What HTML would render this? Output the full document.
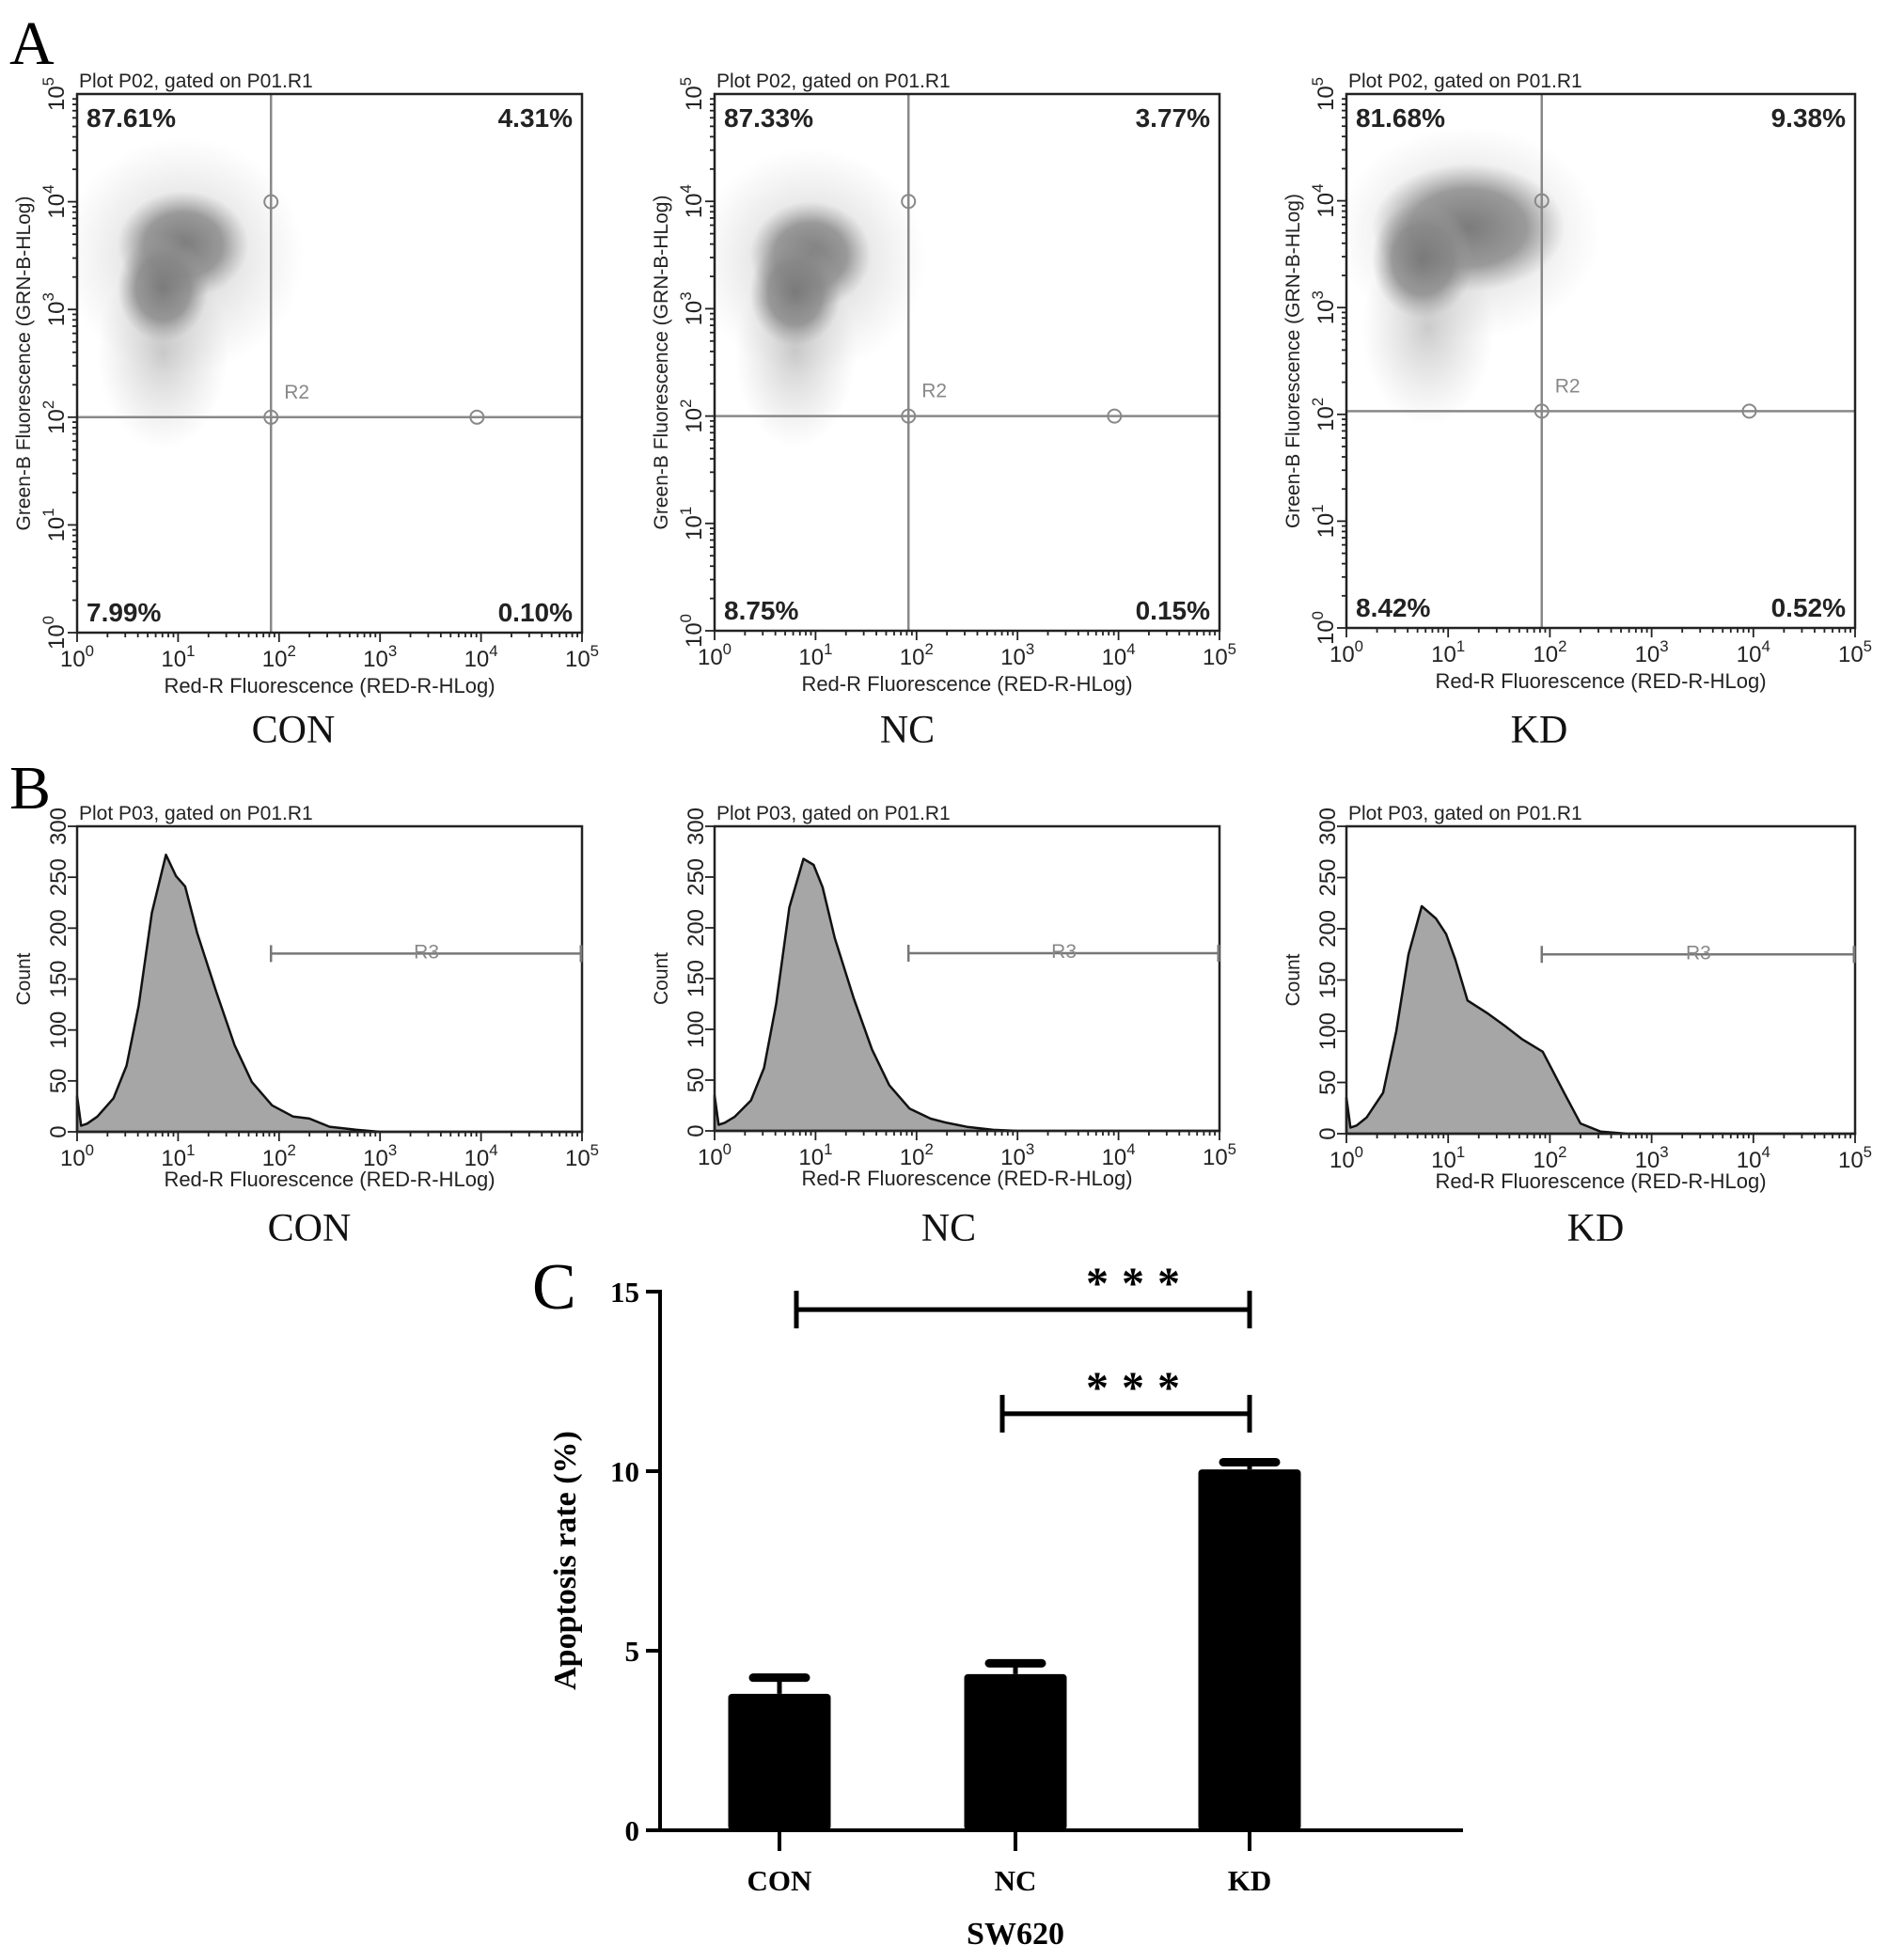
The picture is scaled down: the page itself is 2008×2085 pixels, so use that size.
<!DOCTYPE html>
<html><head><meta charset="utf-8">
<style>
html,body{margin:0;padding:0;background:#fff;}
svg{display:block;}
.sans{font-family:"Liberation Sans",sans-serif;}
.serif{font-family:"Liberation Serif",serif;}
</style></head>
<body>
<svg id="fig" width="2008" height="2085" viewBox="0 0 2008 2085" xmlns="http://www.w3.org/2000/svg">
<defs>
<radialGradient id="dens" cx="50%" cy="50%" r="50%">
<stop offset="0%" stop-color="#777" stop-opacity="0.95"/>
<stop offset="60%" stop-color="#888" stop-opacity="0.8"/>
<stop offset="100%" stop-color="#a0a0a0" stop-opacity="0"/>
</radialGradient>
<radialGradient id="halo" cx="50%" cy="50%" r="50%">
<stop offset="0%" stop-color="#999" stop-opacity="0.5"/>
<stop offset="100%" stop-color="#b0b0b0" stop-opacity="0"/>
</radialGradient>
</defs>
<text x="10" y="68" class="serif" font-size="66">A</text>
<text x="10" y="860" class="serif" font-size="66">B</text>
<text x="566" y="1392" class="serif" font-size="70">C</text>
<g id="root"></g>
</svg>
<script>
// ---------- data ----------
const groups = ["CON","NC","KD"];
const quadUL = ["87.61%","87.33%","81.68%"];
const quadUR = ["4.31%","3.77%","9.38%"];
const quadLL = ["7.99%","8.75%","8.42%"];
const quadLR = ["0.10%","0.15%","0.52%"];
const gateX = [1.92, 1.92, 1.92];
const gateY = [2.0, 2.0, 2.03];
// scatter clusters: [logX, logY, radiusX(decades), radiusY(decades), kind]
const clustersCON = [[1.05,3.5,1.2,1.1,0],[0.85,2.6,0.65,0.9,0],[1.05,3.6,0.65,0.5,1],[0.85,3.2,0.45,0.5,1]];
const clustersNC  = [[0.95,3.45,1.15,1.05,0],[0.8,2.6,0.6,0.9,0],[0.95,3.5,0.6,0.5,1],[0.8,3.15,0.45,0.5,1]];
const clustersKD  = [[1.2,3.7,1.3,1.0,0],[0.8,2.8,0.65,0.9,0],[1.2,3.75,0.95,0.6,1],[0.75,3.45,0.5,0.55,1]];
const clusters = [clustersCON, clustersNC, clustersKD];
// histogram: log10 x positions and counts
const histX   = [0,0.04,0.1,0.2,0.36,0.49,0.61,0.74,0.88,0.98,1.07,1.19,1.38,1.56,1.73,1.93,2.14,2.3,2.5,2.76,3.0,5.0];
const histCON = [35,6,8,15,33,65,124,215,272,251,241,195,137,85,49,26,15,13,5,2,0,0];
const histNC  = [35,6,8,14,30,62,125,220,268,262,240,190,130,80,45,22,12,8,4,1,0,0];
const histKD  = [35,6,8,16,40,100,175,222,210,195,170,130,118,105,92,80,40,10,2,0,0,0];
const hists = [histCON, histNC, histKD];
const histTicks = [0,50,100,150,200,250,300];
const logTicks = [0,1,2,3,4,5];
// bar chart
const barCats = ["CON","NC","KD"];
const barVals = [3.8, 4.35, 10.05];
const barErr  = [0.45, 0.3, 0.2];
const barTicks = [0,5,10,15];
const sigPairs = [[0,2,14.5],[1,2,11.6]];

// ---------- helpers ----------
const NS="http://www.w3.org/2000/svg";
const root=document.getElementById('root');
function mk(tag, attrs, parent, txt){
  const e=document.createElementNS(NS,tag);
  for(const k in attrs) e.setAttribute(k,attrs[k]);
  if(txt!==undefined) e.textContent=txt;
  (parent||root).appendChild(e);
  return e;
}
function logLabel(g,x,y,p,rot,size){
  const t=mk('text',{x:x,y:y,'font-size':size,'class':'sans','text-anchor':'middle',fill:'#222'},g);
  if(rot) t.setAttribute('transform','rotate(-90 '+x+' '+y+')');
  const a=document.createElementNS(NS,'tspan'); a.textContent='10'; t.appendChild(a);
  const b=document.createElementNS(NS,'tspan'); b.setAttribute('dy',-size*0.45); b.setAttribute('font-size',size*0.7); b.textContent=String(p); t.appendChild(b);
  return t;
}
function logXTicks(g,L,R,B){
  const dec=(R-L)/5;
  for(let d=0;d<5;d++){
    for(let m=1;m<=9;m++){
      const x=L+(d+Math.log10(m))*dec;
      mk('line',{x1:x,x2:x,y1:B,y2:B+(m==1?10:5),stroke:'#222','stroke-width':1.8},g);
    }
  }
  mk('line',{x1:R,x2:R,y1:B,y2:B+10,stroke:'#222','stroke-width':1.8},g);
  logTicks.forEach(p=>{ logLabel(g,L+p*dec,B+36,p,false,24); });
}

const scatL=[82,760,1432], scatR=[619,1297,1973], scatT=[100,100,100], scatB=[673,671,668];
const labA=[312,965,1637];
const histL=[82,760,1432], histR=[619,1297,1973], histT=[879,879,879], histB=[1204,1203,1206];
const labB=[329,1009,1697];

// ---------- panel A ----------
groups.forEach((gname,i)=>{
  const g=mk('g',{});
  
  
  const L=scatL[i],R=scatR[i],T=scatT[i],B=scatB[i];
  const dx=(R-L)/5, dy=(B-T)/5;
  const sx=v=>L+v*dx, sy=v=>B-v*dy;
  const clip=mk('clipPath',{id:'clipA'+i},g); mk('rect',{x:L,y:T,width:R-L,height:B-T},clip);
  const cg=mk('g',{'clip-path':'url(#clipA'+i+')'},g);
  clusters[i].forEach((c,j)=>{
    const e=mk('ellipse',{cx:sx(c[0]),cy:sy(c[1]),rx:c[2]*dx,ry:c[3]*dy,fill:c[4]?'url(#dens)':'url(#halo)'},cg);
    
    
  });
  const gx=sx(gateX[i]), gy=sy(gateY[i]);
  mk('line',{x1:gx,x2:gx,y1:T,y2:B,stroke:'#888','stroke-width':2.5},g);
  mk('line',{x1:L,x2:R,y1:gy,y2:gy,stroke:'#888','stroke-width':2.5},g);
  [[gx,gy],[sx(3.96),gy],[gx,sy(4)]].forEach(p=>mk('circle',{cx:p[0],cy:p[1],r:7,fill:'none',stroke:'#888','stroke-width':2},g));
  mk('text',{x:gx+14,y:gy-20,'font-size':21,'class':'sans',fill:'#888'},g,'R2');
  mk('rect',{x:L,y:T,width:R-L,height:B-T,fill:'none',stroke:'#222','stroke-width':2.5},g);
  mk('text',{x:L+2,y:T-7,'font-size':21,'class':'sans',fill:'#222'},g,'Plot P02, gated on P01.R1');
  const q=[[quadUL[i],L+10,T+35,'start'],[quadUR[i],R-10,T+35,'end'],[quadLL[i],L+10,B-12,'start'],[quadLR[i],R-10,B-12,'end']];
  q.forEach((o,k)=>{const t=mk('text',{x:o[1],y:o[2],'font-size':28,'font-weight':'bold','class':'sans','text-anchor':o[3],fill:'#222'},g,o[0]);
     });
  logXTicks(g,L,R,B);
  for(let d=0;d<5;d++)for(let m=1;m<=9;m++){const y=B-(d+Math.log10(m))*dy; mk('line',{x1:L-(m==1?10:5),x2:L,y1:y,y2:y,stroke:'#222','stroke-width':1.8},g);}
  logTicks.forEach(p=>logLabel(g,L-14,B-p*dy,p,true,24));
  const yl=mk('text',{x:L-50,y:(T+B)/2,'font-size':21,'class':'sans','text-anchor':'middle',fill:'#222',transform:'rotate(-90 '+(L-50)+' '+((T+B)/2)+')'},g,'Green-B Fluorescence (GRN-B-HLog)');
   
  const xl=mk('text',{x:(L+R)/2,y:B+64,'font-size':22,'class':'sans','text-anchor':'middle',fill:'#222'},g,'Red-R Fluorescence (RED-R-HLog)');
   
  const cl=mk('text',{x:labA[i],y:790,'font-size':42,'class':'serif','text-anchor':'middle',fill:'#111'},g,gname);
   
});

// ---------- panel B ----------
groups.forEach((gname,i)=>{
  const g=mk('g',{});
  
  
  const L=histL[i],R=histR[i],T=histT[i],B=histB[i];
  const dx=(R-L)/5, sy=v=>B-v/300*(B-T), sx=v=>L+v*dx;
  let d='M'+sx(histX[0])+','+B;
  histX.forEach((x,k)=>{d+=' L'+sx(x).toFixed(1)+','+sy(hists[i][k]).toFixed(1);});
  d+=' L'+R+','+B+' Z';
  const p=mk('path',{d:d,fill:'#a6a6a6',stroke:'#111','stroke-width':2.5,'stroke-linejoin':'round'},g);
  
  
  mk('rect',{x:L,y:T,width:R-L,height:B-T,fill:'none',stroke:'#222','stroke-width':2.5},g);
  mk('text',{x:L+2,y:T-7,'font-size':21,'class':'sans',fill:'#222'},g,'Plot P03, gated on P01.R1');
  const ry=sy(175), rx1=sx(1.92);
  mk('line',{x1:rx1,x2:R,y1:ry,y2:ry,stroke:'#777','stroke-width':2.5},g);
  mk('line',{x1:rx1,x2:rx1,y1:ry-9,y2:ry+9,stroke:'#777','stroke-width':2.5},g);
  mk('line',{x1:R-1,x2:R-1,y1:ry-9,y2:ry+9,stroke:'#777','stroke-width':3},g);
  mk('text',{x:(rx1+R)/2,y:ry+5,'font-size':21,'class':'sans','text-anchor':'middle',fill:'#888'},g,'R3');
  logXTicks(g,L,R,B);
  histTicks.forEach(v=>{const y=sy(v); mk('line',{x1:L-10,x2:L,y1:y,y2:y,stroke:'#222','stroke-width':1.8},g);
    mk('text',{x:L-12,y:y,'font-size':24,'class':'sans','text-anchor':'middle',fill:'#222',transform:'rotate(-90 '+(L-12)+' '+y+')'},g,String(v));});
  mk('text',{x:L-50,y:(T+B)/2,'font-size':21,'class':'sans','text-anchor':'middle',fill:'#222',transform:'rotate(-90 '+(L-50)+' '+((T+B)/2)+')'},g,'Count');
  mk('text',{x:(L+R)/2,y:B+58,'font-size':22,'class':'sans','text-anchor':'middle',fill:'#222'},g,'Red-R Fluorescence (RED-R-HLog)');
  mk('text',{x:labB[i],y:1320,'font-size':42,'class':'serif','text-anchor':'middle',fill:'#111'},g,gname);
});

// ---------- panel C ----------
(function(){
  const g=mk('g',{});
  
  
  const L=702, R=1556, B=1947, T=1374, ymax=15;
  const sy=v=>B-v/ymax*(B-T);
  const cx=[829,1080,1329], bw=109;
  barVals.forEach((v,k)=>{
    const e=sy(v+barErr[k]);
    mk('line',{x1:cx[k],x2:cx[k],y1:sy(v),y2:e,stroke:'#000','stroke-width':5},g);
    mk('line',{x1:cx[k]-28,x2:cx[k]+28,y1:e,y2:e,stroke:'#000','stroke-width':9,'stroke-linecap':'round'},g);
    const r=mk('rect',{x:cx[k]-bw/2,y:sy(v),width:bw,height:B-sy(v),fill:'#000',rx:4},g);
    
    
    mk('line',{x1:cx[k],x2:cx[k],y1:B,y2:B+22,stroke:'#000','stroke-width':4},g);
    mk('text',{x:cx[k],y:2011,'font-size':31,'font-weight':'bold','class':'serif','text-anchor':'middle'},g,barCats[k]);
  });
  mk('line',{x1:L,x2:L,y1:T-2,y2:B,stroke:'#000','stroke-width':4},g);
  mk('line',{x1:L,x2:R,y1:B,y2:B,stroke:'#000','stroke-width':4},g);
  barTicks.forEach(v=>{const y=sy(v); mk('line',{x1:L-15,x2:L,y1:y,y2:y,stroke:'#000','stroke-width':4},g);
    mk('text',{x:L-22,y:y+11,'font-size':31,'font-weight':'bold','class':'serif','text-anchor':'end'},g,String(v));});
  sigPairs.forEach((s,k)=>{
    const x1=cx[s[0]]+ (s[0]==0?18:-14), x2=cx[s[1]], y=sy(s[2]);
    const sg=mk('g',{},g);
    
    
    mk('line',{x1:x1,x2:x2,y1:y,y2:y,stroke:'#000','stroke-width':5},sg);
    mk('line',{x1:x1,x2:x1,y1:y-20,y2:y+20,stroke:'#000','stroke-width':5},sg);
    mk('line',{x1:x2,x2:x2,y1:y-20,y2:y+20,stroke:'#000','stroke-width':5},sg);
    mk('text',{x:1212,y:y-12,'font-size':48,'font-weight':'bold','class':'serif','text-anchor':'middle','letter-spacing':'14'},sg,'***');
  });
  const yl=mk('text',{x:612,y:1660,'font-size':34,'font-weight':'bold','class':'serif','text-anchor':'middle',transform:'rotate(-90 612 1660)'},g,'Apoptosis rate (%)');
   
  const xl=mk('text',{x:1080,y:2068,'font-size':34,'font-weight':'bold','class':'serif','text-anchor':'middle'},g,'SW620');
   
})();
</script>
</body></html>
